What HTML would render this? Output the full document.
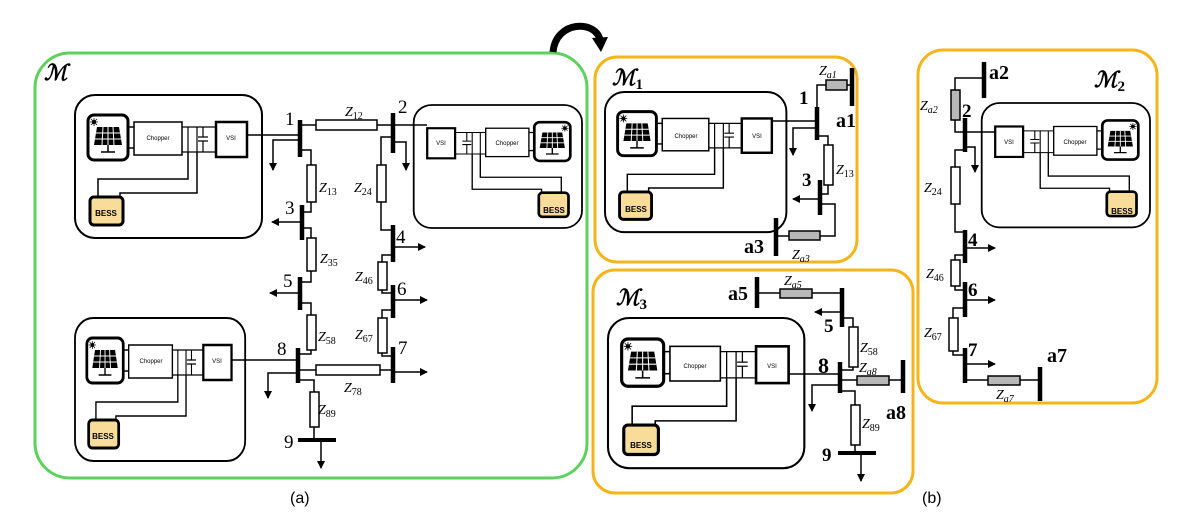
<!DOCTYPE html>
<html><head><meta charset="utf-8"><style>
html,body{margin:0;padding:0;background:#fff;}
svg{display:block;}
.w{fill:none;stroke:#000;stroke-width:1.5;}
.bus{stroke:#000;stroke-width:4.5;}
.r{fill:#fff;stroke:#000;stroke-width:1.5;}
.g{fill:#b8b8b8;stroke:#000;stroke-width:1.5;}
.z{font-family:"Liberation Serif",serif;font-style:italic;font-size:14px;}
.z tspan{font-size:10px;font-style:normal;}
.n{font-family:"Liberation Serif",serif;font-size:19px;}
.nb{font-family:"Liberation Serif",serif;font-size:19px;font-weight:bold;}
.m{font-family:"Liberation Serif",serif;font-style:italic;font-weight:bold;font-size:22px;}
.t{font-family:"Liberation Sans",sans-serif;font-size:6px;text-anchor:middle;}
.bt{font-family:"Liberation Sans",sans-serif;font-size:8px;font-weight:bold;text-anchor:middle;}
</style></head><body>
<svg width="1204" height="532" viewBox="0 0 1204 532" xmlns="http://www.w3.org/2000/svg">
<defs>
<marker id="ar" markerWidth="8" markerHeight="8" refX="7" refY="4" orient="auto" markerUnits="userSpaceOnUse"><path d="M0,0 L8,4 L0,8 z" fill="#000"/></marker>
<g id="unit">
<rect x="0" y="0" width="187" height="143" rx="20" fill="none" stroke="#000" stroke-width="2"/>
<rect x="13" y="20" width="40" height="45" rx="6" fill="#fff" stroke="#000" stroke-width="3"/>
<path d="M22,32 L44,32 L47,50 L19,50 z" fill="#000"/>
<path d="M21,38 L45,38 M20,44 L46,44 M28,32 L27,50 M33,32 L33,50 M38,32 L39,50" stroke="#fff" stroke-width="1"/>
<path d="M33,50 L33,57 M26,57 L40,57" stroke="#000" stroke-width="1.5"/>
<circle cx="19" cy="27" r="2" fill="#000"/>
<path d="M15,27 L23,27 M19,23 L19,31 M16,24 L22,30 M22,24 L16,30" stroke="#000" stroke-width="0.8"/>
<path d="M53,32 L59,32 M53,53 L59,53" stroke="#000" stroke-width="1.5"/>
<rect x="59" y="27" width="48" height="33" fill="#fff" stroke="#000" stroke-width="1.5"/>
<path d="M107,32 L141,32 M107,57 L141,57 M113,32 L113,57 M122,32 L122,57 M128,32 L128,42 M128,46 L128,57 M123,42 L133,42 M123,46 L133,46" stroke="#000" stroke-width="1.2" fill="none"/>
<rect x="141" y="27" width="31" height="35" fill="#fff" stroke="#000" stroke-width="2.5"/>
<path d="M113,57 L113,84 L23,84 L23,102 M122,57 L122,98 L45,98 L45,102" stroke="#000" stroke-width="1.5" fill="none"/>
<rect x="15" y="102" width="33" height="28" rx="4" fill="#f8dc9a" stroke="#000" stroke-width="3"/>
</g>
</defs>

<!-- (a) -->
<rect x="35" y="53" width="552" height="425" rx="35" fill="none" stroke="#5cd15c" stroke-width="3"/>
<text class="m" x="44" y="80">ℳ</text>
<path d="M553,52 C556,20 596,20 600,40" fill="none" stroke="#000" stroke-width="7"/>
<path d="M592,38 L608,37 L601,52 z" fill="#000"/>

<g transform="translate(75,95)"><use href="#unit"/></g>
<text class="t" x="158" y="140">Chopper</text><text class="t" x="231" y="140">VSI</text><text class="bt" x="106" y="216">BESS</text>
<g transform="translate(75,318) scale(0.91,1)"><use href="#unit"/></g>
<text class="t" x="151" y="363">Chopper</text><text class="t" x="217" y="363">VSI</text><text class="bt" x="103" y="439">BESS</text>
<g transform="translate(582,105) scale(-0.9,0.86)"><use href="#unit"/></g>
<text class="t" x="507" y="145">Chopper</text><text class="t" x="441" y="145">VSI</text><text class="bt" x="554" y="213">BESS</text>

<line class="bus" x1="300" y1="120" x2="300" y2="157"/><text class="n" x="285" y="125">1</text>
<path class="w" d="M247,135 L300,135"/>
<path class="w" d="M300,125 L316,125 M377,125 L393,125"/><rect class="r" x="316" y="120" width="61" height="10"/>
<text class="z" x="345" y="116">Z<tspan dy="3">12</tspan></text>
<line class="bus" x1="393" y1="113" x2="393" y2="153"/><text class="n" x="398" y="113">2</text>
<path class="w" d="M393,125 L427,125"/>
<path class="w" d="M300,140 L273,140 L273,170" marker-end="url(#ar)"/>
<path class="w" d="M393,142 L406,142 L406,170" marker-end="url(#ar)"/>
<path class="w" d="M300,150 L311,150 L311,165 M311,202 L311,212 L302,212"/><rect class="r" x="307" y="165" width="9" height="37"/>
<text class="z" x="319" y="192">Z<tspan dy="3">13</tspan></text>
<line class="bus" x1="302" y1="205" x2="302" y2="240"/><text class="n" x="285" y="214">3</text>
<path class="w" d="M302,222 L272,222" marker-end="url(#ar)"/>
<path class="w" d="M393,137 L381,137 L381,165 M381,202 L381,230 L393,230"/><rect class="r" x="377" y="165" width="9" height="37"/>
<text class="z" x="354" y="192">Z<tspan dy="3">24</tspan></text>
<line class="bus" x1="393" y1="225" x2="393" y2="262"/><text class="n" x="396" y="243">4</text>
<path class="w" d="M393,247 L425,247" marker-end="url(#ar)"/>
<path class="w" d="M302,228 L311,228 L311,238 M311,271 L311,282 L300,282"/><rect class="r" x="307" y="238" width="9" height="33"/>
<text class="z" x="320" y="263">Z<tspan dy="3">35</tspan></text>
<line class="bus" x1="300" y1="277" x2="300" y2="310"/><text class="n" x="283" y="287">5</text>
<path class="w" d="M300,293 L270,293" marker-end="url(#ar)"/>
<path class="w" d="M393,255 L382,255 L382,262 M382,290 L382,293 L393,293"/><rect class="r" x="378" y="262" width="9" height="28"/>
<text class="z" x="355" y="281">Z<tspan dy="3">46</tspan></text>
<line class="bus" x1="393" y1="285" x2="393" y2="318"/><text class="n" x="397" y="295">6</text>
<path class="w" d="M393,300 L427,300" marker-end="url(#ar)"/>
<path class="w" d="M300,303 L311,303 L311,315 M311,350 L311,354 L298,354"/><rect class="r" x="307" y="315" width="9" height="35"/>
<text class="z" x="318" y="341">Z<tspan dy="3">58</tspan></text>
<line class="bus" x1="298" y1="348" x2="298" y2="383"/><text class="n" x="277" y="355">8</text>
<path class="w" d="M231,360 L298,360"/>
<path class="w" d="M393,310 L382,310 L382,318 M382,353 L382,356 L393,356"/><rect class="r" x="378" y="318" width="9" height="35"/>
<text class="z" x="355" y="339">Z<tspan dy="3">67</tspan></text>
<line class="bus" x1="393" y1="347" x2="393" y2="383"/><text class="n" x="398" y="354">7</text>
<path class="w" d="M393,372 L427,372" marker-end="url(#ar)"/>
<path class="w" d="M298,370 L316,370 M380,370 L393,370"/><rect class="r" x="316" y="365" width="64" height="10"/>
<text class="z" x="344" y="392">Z<tspan dy="3">78</tspan></text>
<path class="w" d="M298,373 L268,373 L268,398" marker-end="url(#ar)"/>
<path class="w" d="M298,380 L314,380 L314,392 M314,427 L314,440"/><rect class="r" x="310" y="392" width="9" height="35"/>
<text class="z" x="318" y="414">Z<tspan dy="3">89</tspan></text>
<line class="bus" x1="298" y1="440" x2="336" y2="440" style="stroke-width:4"/><text class="n" x="284" y="448">9</text>
<path class="w" d="M321,440 L321,468" marker-end="url(#ar)"/>
<text x="290" y="503" style="font-family:'Liberation Sans',sans-serif;font-size:16px">(a)</text>

<!-- M1 -->
<rect x="595" y="57" width="262" height="205" rx="22" fill="none" stroke="#f5b41a" stroke-width="3"/>
<text class="m" x="612" y="85">ℳ<tspan dy="4" style="font-size:15px;font-style:normal">1</tspan></text>
<g transform="translate(605,92) scale(0.97,0.98)"><use href="#unit"/></g>
<text class="t" x="686" y="138">Chopper</text><text class="t" x="757" y="138">VSI</text><text class="bt" x="636" y="212">BESS</text>
<line class="bus" x1="817" y1="107" x2="817" y2="140"/><text class="nb" x="799" y="104">1</text>
<path class="w" d="M772,121 L817,121"/>
<path class="w" d="M817,110 L817,85 L826,85 M847,85 L852,85"/><rect class="g" x="826" y="80" width="21" height="10"/>
<line class="bus" x1="852" y1="68" x2="852" y2="106"/><text class="nb" x="836" y="127" style="font-size:20px">a1</text>
<text class="z" x="819" y="75">Z<tspan dy="3" style="font-style:italic">a1</tspan></text>
<path class="w" d="M817,128 L793,128 L793,155" marker-end="url(#ar)"/>
<path class="w" d="M817,136 L828,136 L828,145 M828,185 L828,194 L820,194"/><rect class="r" x="824" y="145" width="9" height="40"/>
<text class="z" x="836" y="174">Z<tspan dy="3">13</tspan></text>
<line class="bus" x1="820" y1="180" x2="820" y2="215"/><text class="nb" x="802" y="186">3</text>
<path class="w" d="M820,199 L793,199" marker-end="url(#ar)"/>
<path class="w" d="M820,204 L835,204 L835,236 L820,236 M789,236 L776,236"/><rect class="g" x="789" y="231" width="31" height="9"/>
<line class="bus" x1="776" y1="218" x2="776" y2="256"/><text class="nb" x="744" y="253" style="font-size:20px">a3</text>
<text class="z" x="792" y="259">Z<tspan dy="3" style="font-style:italic">a3</tspan></text>

<!-- M3 -->
<rect x="593" y="270" width="320" height="223" rx="22" fill="none" stroke="#f5b41a" stroke-width="3"/>
<text class="m" x="616" y="305">ℳ<tspan dy="4" style="font-size:15px;font-style:normal">3</tspan></text>
<g transform="translate(608,318) scale(1.05,1.05)"><use href="#unit"/></g>
<text class="t" x="695" y="368">Chopper</text><text class="t" x="772" y="368">VSI</text><text class="bt" x="641" y="448">BESS</text>
<line class="bus" x1="757" y1="277" x2="757" y2="308"/><text class="nb" x="728" y="300" style="font-size:20px">a5</text>
<path class="w" d="M757,293 L780,293 M812,293 L842,293"/><rect class="g" x="780" y="289" width="32" height="9"/>
<text class="z" x="784" y="285">Z<tspan dy="3" style="font-style:italic">a5</tspan></text>
<line class="bus" x1="842" y1="288" x2="842" y2="327"/><text class="nb" x="824" y="332">5</text>
<path class="w" d="M842,312 L815,312" marker-end="url(#ar)"/>
<path class="w" d="M842,318 L853,318 L853,327 M853,367 L853,370 L840,370"/><rect class="r" x="849" y="327" width="9" height="40"/>
<text class="z" x="860" y="352">Z<tspan dy="3">58</tspan></text>
<line class="bus" x1="840" y1="362" x2="840" y2="393"/><text class="nb" x="818" y="373" style="font-size:22px">8</text>
<path class="w" d="M789,374 L840,374"/>
<path class="w" d="M840,380 L857,380 M889,380 L903,380"/><rect class="g" x="857" y="376" width="32" height="9"/>
<text class="z" x="859" y="372">Z<tspan dy="3" style="font-style:italic">a8</tspan></text>
<line class="bus" x1="903" y1="360" x2="903" y2="393"/><text class="nb" x="886" y="419" style="font-size:20px">a8</text>
<path class="w" d="M840,385 L812,385 L812,411" marker-end="url(#ar)"/>
<path class="w" d="M840,391 L855,391 L855,405 M855,445 L855,453"/><rect class="r" x="851" y="405" width="9" height="40"/>
<text class="z" x="862" y="428">Z<tspan dy="3">89</tspan></text>
<line class="bus" x1="838" y1="453" x2="876" y2="453" style="stroke-width:4"/><text class="nb" x="822" y="461">9</text>
<path class="w" d="M861,453 L861,481" marker-end="url(#ar)"/>
<text x="922" y="503" style="font-family:'Liberation Sans',sans-serif;font-size:16px">(b)</text>

<!-- M2 -->
<rect x="918" y="50" width="239" height="353" rx="25" fill="none" stroke="#f5b41a" stroke-width="3"/>
<text class="m" x="1094" y="87">ℳ<tspan dy="4" style="font-size:15px;font-style:normal">2</tspan></text>
<g transform="translate(1150,103) scale(-0.9,0.87)"><use href="#unit"/></g>
<text class="t" x="1075" y="144">Chopper</text><text class="t" x="1009" y="144">VSI</text><text class="bt" x="1122" y="214">BESS</text>
<line class="bus" x1="984" y1="62" x2="984" y2="98"/><text class="nb" x="989" y="79" style="font-size:20px">a2</text>
<path class="w" d="M984,78 L955,78 L955,90 M955,120 L955,132 L965,132"/><rect class="g" x="951" y="90" width="9" height="30"/>
<text class="z" x="920" y="110">Z<tspan dy="3" style="font-style:italic">a2</tspan></text>
<line class="bus" x1="965" y1="118" x2="965" y2="152"/><text class="nb" x="962" y="117">2</text>
<path class="w" d="M965,132 L995,132"/>
<path class="w" d="M965,147 L975,147 L975,172" marker-end="url(#ar)"/>
<path class="w" d="M965,150 L955,150 L955,167 M955,204 L955,232 L965,232"/><rect class="r" x="951" y="167" width="9" height="37"/>
<text class="z" x="924" y="192">Z<tspan dy="3">24</tspan></text>
<line class="bus" x1="965" y1="230" x2="965" y2="263"/><text class="nb" x="968" y="246">4</text>
<path class="w" d="M965,248 L995,248" marker-end="url(#ar)"/>
<path class="w" d="M965,255 L955,255 L955,260 M955,286 L955,290 L965,290"/><rect class="r" x="951" y="260" width="9" height="26"/>
<text class="z" x="926" y="278">Z<tspan dy="3">46</tspan></text>
<line class="bus" x1="965" y1="282" x2="965" y2="317"/><text class="nb" x="968" y="296">6</text>
<path class="w" d="M965,300 L995,300" marker-end="url(#ar)"/>
<path class="w" d="M965,308 L953,308 L953,318 M953,351 L953,355 L965,355"/><rect class="r" x="949" y="318" width="9" height="33"/>
<text class="z" x="924" y="337">Z<tspan dy="3">67</tspan></text>
<line class="bus" x1="965" y1="348" x2="965" y2="383"/><text class="nb" x="968" y="356">7</text>
<path class="w" d="M965,364 L995,364" marker-end="url(#ar)"/>
<path class="w" d="M965,380 L988,380 M1020,380 L1040,380"/><rect class="g" x="988" y="376" width="32" height="9"/>
<text class="z" x="996" y="399">Z<tspan dy="3" style="font-style:italic">a7</tspan></text>
<line class="bus" x1="1040" y1="367" x2="1040" y2="401"/><text class="nb" x="1047" y="362" style="font-size:20px">a7</text>
</svg>
</body></html>
